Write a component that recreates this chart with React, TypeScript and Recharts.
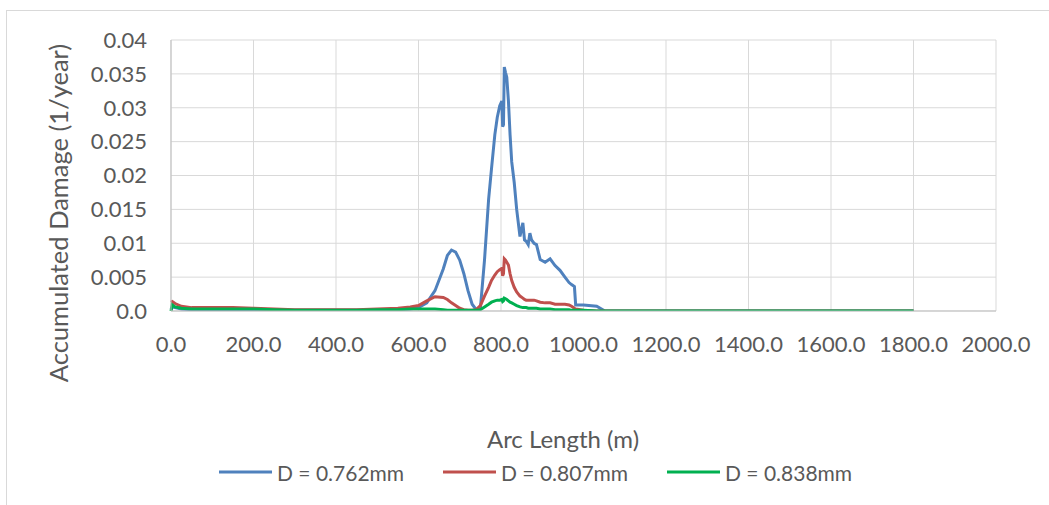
import React from "react";
import { LineChart, Line, XAxis, YAxis, CartesianGrid } from "recharts";

const arcLength = [0, 3, 10, 25, 50, 100, 150, 200, 250, 300, 350, 400, 450, 500, 550, 580, 600, 620, 640, 660, 670, 680, 690, 700, 710, 720, 730, 740, 750, 760, 770, 777, 785, 791, 797, 802, 804, 806, 808, 811, 814, 818, 822, 826, 832, 838, 846, 853, 857, 861, 866, 870, 874, 880, 886, 895, 907, 919, 931, 943, 955, 965, 971, 978, 981, 1000, 1032, 1052, 1200, 1400, 1600, 1800];

const damageD0762 = [0.0002, 0.0006, 0.0005, 0.0003, 0.0002, 0.0002, 0.0002, 0.0002, 0.0001, 0.0001, 0.0001, 0.0001, 0.0001, 0.0001, 0.0002, 0.0003, 0.0005, 0.0012, 0.003, 0.0062, 0.0082, 0.009, 0.0087, 0.0075, 0.0055, 0.003, 0.001, 0.0002, 0.0004, 0.0075, 0.0165, 0.021, 0.026, 0.0286, 0.0303, 0.031, 0.0272, 0.0275, 0.036, 0.0352, 0.0345, 0.031, 0.026, 0.022, 0.019, 0.015, 0.011, 0.013, 0.0105, 0.0103, 0.0098, 0.0115, 0.0105, 0.01, 0.0098, 0.0076, 0.0072, 0.0077, 0.0067, 0.006, 0.005, 0.0042, 0.0039, 0.0036, 0.0009, 0.0009, 0.0007, 0, 0, 0, 0, 0];

const damageD0807 = [0.0013, 0.0014, 0.0011, 0.0007, 0.0005, 0.0005, 0.0005, 0.0004, 0.0003, 0.0002, 0.0002, 0.0002, 0.0002, 0.0003, 0.0004, 0.0006, 0.0008, 0.0015, 0.0021, 0.002, 0.0017, 0.0012, 0.0008, 0.0004, 0.0002, 0.0001, 0.0001, 0.0002, 0.0008, 0.0022, 0.0035, 0.0045, 0.0053, 0.0058, 0.0061, 0.0063, 0.0052, 0.0055, 0.0077, 0.0075, 0.0072, 0.0068, 0.0055, 0.0045, 0.0035, 0.0028, 0.0022, 0.0019, 0.0017, 0.0016, 0.0016, 0.0016, 0.0016, 0.0016, 0.0015, 0.0013, 0.0012, 0.0012, 0.001, 0.001, 0.001, 0.0009, 0.0007, 0.0004, 0.0003, 0.0001, 0, 0, 0, 0, 0, 0];

const damageD0838 = [0, 0.0009, 0.0006, 0.0004, 0.0003, 0.0003, 0.0003, 0.0003, 0.0002, 0.0001, 0.0001, 0.0001, 0.0001, 0.0002, 0.0002, 0.0003, 0.0003, 0.0003, 0.0003, 0.0002, 0.0001, 0.0001, 0.0001, 0.0001, 0.0001, 0.0001, 0.0001, 0.0001, 0.0002, 0.0006, 0.001, 0.0013, 0.0015, 0.0016, 0.0016, 0.0017, 0.0014, 0.0015, 0.0019, 0.0018, 0.0017, 0.0015, 0.0013, 0.0012, 0.001, 0.0008, 0.0006, 0.0005, 0.0005, 0.0005, 0.0004, 0.0004, 0.0004, 0.0004, 0.0004, 0.0003, 0.0003, 0.0003, 0.0002, 0.0002, 0.0002, 0.0002, 0.0001, 0.0001, 0.0001, 0.0001, 0, 0, 0, 0, 0, 0];

const seriesNames = ["D = 0.762mm", "D = 0.807mm", "D = 0.838mm"];
const seriesColors = ["#4f81bd", "#c0504d", "#00b050"];

const xTicks = [0, 200, 400, 600, 800, 1000, 1200, 1400, 1600, 1800, 2000];
const yTicks = [0, 0.005, 0.01, 0.015, 0.02, 0.025, 0.03, 0.035, 0.04];
const yTickLabels = ["0.0", "0.005", "0.01", "0.015", "0.02", "0.025", "0.03", "0.035", "0.04"];

const data = arcLength.map((x, i) => ({
  x,
  d0: damageD0762[i],
  d1: damageD0807[i],
  d2: damageD0838[i],
}));

const FONT = "Lato, 'Open Sans', sans-serif";
const TEXT = "#595959";

export default function App() {
  return (
    <div style={{ position: "absolute", left: 0, top: 0, width: 1049, height: 505, overflow: "hidden", background: "#fff", fontFamily: FONT }}>
      <div style={{ position: "absolute", left: 6, top: 10, width: 1043, height: 495, borderLeft: "1px solid #d9d9d9", borderTop: "1px solid #d9d9d9", boxSizing: "border-box" }} />
      <div style={{ position: "absolute", left: 0, top: 0 }}>
        <LineChart width={1049} height={505} data={data} margin={{ top: 40, right: 53, left: 71, bottom: 134 }}>
          <CartesianGrid stroke="#d9d9d9" strokeWidth={1} />
          <XAxis
            dataKey="x"
            type="number"
            domain={[0, 2000]}
            ticks={xTicks}
            tickFormatter={(v: number) => v.toFixed(1)}
            height={60}
            tickSize={0}
            tickMargin={25}
            tickLine={false}
            axisLine={{ stroke: "#bfbfbf", strokeWidth: 1 }}
            tick={{ fill: TEXT, fontSize: 22, fontFamily: FONT }}
            interval={0}
          />
          <YAxis
            type="number"
            domain={[0, 0.04]}
            ticks={yTicks}
            tickFormatter={(v: number) => yTickLabels[yTicks.indexOf(v)] ?? String(v)}
            width={100}
            tickSize={0}
            tickMargin={24}
            tickLine={false}
            axisLine={{ stroke: "#bfbfbf", strokeWidth: 1 }}
            tick={{ fill: TEXT, fontSize: 22, fontFamily: FONT }}
            interval={0}
            allowDataOverflow
          />
          <Line dataKey="d0" name={seriesNames[0]} stroke={seriesColors[0]} strokeWidth={3} dot={false} isAnimationActive={false} type="linear" />
          <Line dataKey="d1" name={seriesNames[1]} stroke={seriesColors[1]} strokeWidth={3} dot={false} isAnimationActive={false} type="linear" />
          <Line dataKey="d2" name={seriesNames[2]} stroke={seriesColors[2]} strokeWidth={3} dot={false} isAnimationActive={false} type="linear" />
        </LineChart>
      </div>
      <div style={{ position: "absolute", left: 58, top: 213, transform: "translate(-50%, -50%) rotate(-90deg)", whiteSpace: "nowrap", color: TEXT, fontSize: 25.5 }}>
        Accumulated Damage (1/year)
      </div>
      <div style={{ position: "absolute", left: 563, top: 438, transform: "translate(-50%, -50%)", whiteSpace: "nowrap", color: TEXT, fontSize: 24 }}>
        Arc Length (m)
      </div>
      {seriesNames.map((name, i) => (
        <div key={name} style={{ position: "absolute", left: [219, 443, 667][i], top: 472, transform: "translateY(-50%)", display: "flex", alignItems: "center", whiteSpace: "nowrap", color: TEXT, fontSize: 21 }}>
          <div style={{ width: 53, height: 3, background: seriesColors[i], marginRight: 5 }} />
          <span>{name}</span>
        </div>
      ))}
    </div>
  );
}
